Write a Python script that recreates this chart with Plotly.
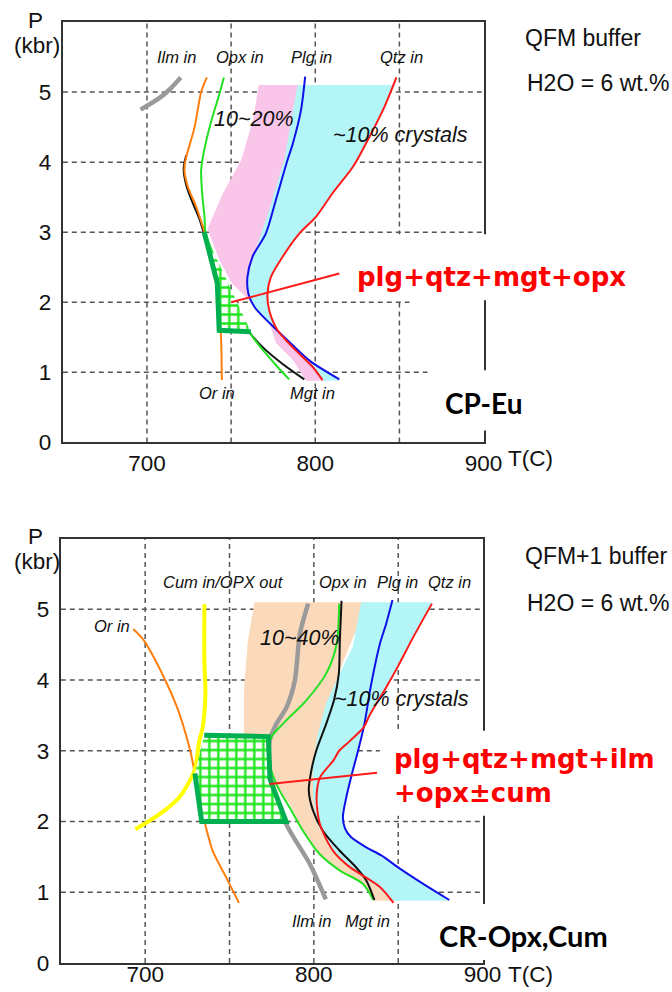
import plotly.graph_objects as go

W, H = 672, 992          # design grid, in pixels
OUT_W, OUT_H = 689, 1006  # size the figure is written at

# ---------------- upper panel (QFM buffer, CP-Eu) ----------------
ilm_T_a = [696.2, 707.1, 713.1, 720.1]
ilm_P_a = [4.75, 4.91, 5.03, 5.21]
or_T_a = [735.6, 732.2, 728.3, 722.9, 722.3, 724.3, 729.3, 733.2, 734.2, 738.0, 741.5, 742.8, 743.9, 744.5]
or_P_a = [5.21, 5.00, 4.50, 4.03, 3.88, 3.65, 3.36, 3.08, 3.00, 2.60, 2.20, 1.80, 1.55, 0.89]
mgt_T_a = [723.3, 721.8, 723.6, 727.5, 731.0, 734.5, 748.0, 760.7, 768.7, 780.6, 793.5]
mgt_P_a = [4.10, 3.90, 3.65, 3.40, 3.20, 2.95, 2.20, 1.58, 1.36, 1.12, 0.90]
opx_T_a = [745.7, 743.1, 737.2, 733.2, 732.2, 732.8, 734.2, 734.8, 746.0, 757.0, 763.0, 770.6, 777.5, 784.5]
opx_P_a = [5.21, 4.98, 4.50, 4.07, 3.88, 3.55, 3.22, 3.00, 2.30, 1.75, 1.50, 1.27, 1.08, 0.90]
plg_T_a = [794.0, 791.5, 786.6, 783.5, 776.6, 770.6, 762.7, 759.7, 760.3, 764.0, 773.0, 786.0, 797.0, 814.3]
plg_P_a = [5.22, 4.74, 4.26, 4.03, 3.46, 2.98, 2.65, 2.36, 2.12, 1.93, 1.70, 1.40, 1.16, 0.90]
qtz_T_a = [848.2, 841.1, 830.2, 822.3, 810.4, 800.4, 790.5, 780.6, 773.6, 771.6, 772.6, 777.6, 786.5, 798.4, 804.3]
qtz_P_a = [5.21, 4.79, 4.27, 3.93, 3.56, 3.22, 2.98, 2.65, 2.36, 2.12, 1.89, 1.60, 1.36, 1.08, 0.89]

pink_T_a = [766.4, 795.0, 785.0, 772.0, 766.0, 770.0, 780.0, 800.0, 808.0, 794.5, 786.6, 776.7,
            772.7, 762.0, 750.6, 743.0, 736.0, 745.0, 756.0, 763.0]
pink_P_a = [5.10, 5.10, 4.00, 3.00, 2.40, 1.90, 1.50, 1.10, 0.88, 0.88, 1.18, 1.42,
            1.70, 2.00, 2.27, 2.60, 3.05, 3.55, 4.03, 4.60]
cyan_T_a = [789.5, 846.3, 841.1, 830.2, 822.3, 810.4, 800.4, 790.5, 780.6, 773.6, 771.6, 772.6,
            777.6, 786.5, 798.4, 804.3, 814.3, 797.0, 786.0, 773.0, 764.0, 760.3, 759.7, 765.2,
            772.7, 781.6]
cyan_P_a = [5.10, 5.10, 4.79, 4.27, 3.93, 3.56, 3.22, 2.98, 2.65, 2.36, 2.12, 1.89,
            1.60, 1.36, 1.08, 0.88, 0.88, 1.16, 1.40, 1.70, 1.93, 2.12, 2.36, 2.79,
            3.32, 4.03]
field_T_a = [734.0, 741.8, 742.9, 761.7]
field_P_a = [3.00, 2.27, 1.60, 1.58]
leader_T_a = [750.0, 814.3]
leader_P_a = [2.00, 2.41]

# ---------------- lower panel (QFM+1 buffer, CR-Opx,Cum) ----------------
or_T_b = [692.9, 699.2, 711.1, 719.0, 724.0, 727.2, 730.2, 735.1, 740.1, 748.0, 755.6]
or_P_b = [4.72, 4.56, 4.04, 3.61, 3.24, 2.95, 2.58, 2.01, 1.58, 1.21, 0.85]
cum_T_b = [735.1, 735.1, 735.7, 734.1, 732.1, 729.2, 720.2, 708.3, 694.2]
cum_P_b = [5.07, 4.27, 3.80, 3.33, 3.14, 2.72, 2.34, 2.10, 1.89]
ilm_T_b = [796.6, 791.7, 788.7, 783.7, 777.8, 773.8, 774.5, 783.7, 797.6, 807.1]
ilm_P_b = [5.08, 4.65, 3.99, 3.61, 3.38, 3.14, 2.60, 1.96, 1.40, 0.90]
opx_T_b = [815.0, 813.5, 807.3, 795.4, 781.6, 774.7, 772.7, 774.7, 779.6, 785.6, 793.5, 803.4, 815.2, 829.0, 835.3]
opx_P_b = [5.08, 4.51, 4.09, 3.71, 3.38, 3.19, 3.00, 2.72, 2.44, 2.20, 1.87, 1.54, 1.31, 1.12, 0.89]
mgt_T_b = [816.4, 815.4, 814.8, 812.0, 807.3, 801.4, 798.5, 797.0, 799.4, 805.3, 815.2, 825.1, 831.0, 835.9]
mgt_P_b = [5.12, 4.56, 4.09, 3.72, 3.38, 3.00, 2.72, 2.44, 2.16, 1.87, 1.59, 1.35, 1.17, 0.89]
plg_T_b = [846.6, 842.9, 839.0, 833.5, 830.0, 826.2, 822.1, 819.2, 817.2, 818.5, 822.0, 831.4, 840.0, 851.2, 866.0, 880.3]
plg_P_b = [5.13, 4.80, 4.50, 3.88, 3.38, 3.00, 2.63, 2.34, 2.06, 1.90, 1.78, 1.63, 1.52, 1.33, 1.10, 0.89]
qtz_T_b = [870.0, 859.0, 850.0, 843.0, 833.0, 829.5, 821.4, 815.0, 811.5, 803.6, 801.6, 803.6, 811.5, 820.0, 827.4, 839.3, 847.2]
qtz_P_b = [5.08, 4.61, 4.20, 3.90, 3.50, 3.33, 3.14, 3.00, 2.86, 2.62, 2.34, 1.96, 1.58, 1.38, 1.26, 1.07, 0.85]

peach_T_b = [764.8, 832.0, 818.0, 806.0, 801.0, 800.5, 803.5, 812.0, 828.0, 840.0, 848.0, 835.3,
             829.0, 815.2, 803.4, 793.5, 785.7, 773.8, 773.0, 758.5, 758.5, 760.9]
peach_P_b = [5.10, 5.10, 4.30, 3.50, 3.00, 2.50, 2.00, 1.58, 1.26, 1.07, 0.88, 0.88,
             1.12, 1.31, 1.54, 1.87, 2.25, 2.60, 3.20, 3.20, 3.85, 4.56]
cyan_T_b = [828.0, 870.0, 859.0, 850.0, 843.0, 833.0, 830.0, 826.2, 822.1, 819.2, 817.2, 818.5,
            822.0, 831.4, 840.0, 851.2, 866.0, 880.3, 846.0, 838.0, 826.0, 810.5, 802.3, 799.5,
            799.4, 802.4, 807.3, 815.2, 823.1]
cyan_P_b = [5.10, 5.10, 4.61, 4.20, 3.90, 3.50, 3.37, 3.00, 2.63, 2.34, 2.06, 1.90,
            1.78, 1.63, 1.52, 1.33, 1.10, 0.88, 0.88, 1.07, 1.26, 1.58, 1.96, 2.34,
            2.82, 3.24, 3.67, 4.09, 4.47]
field_T_b = [735.0, 773.0, 774.0, 783.5, 733.5, 729.5]
field_P_b = [3.22, 3.20, 2.60, 2.00, 2.00, 2.68]
leader_T_b = [773.8, 837.5]
leader_P_b = [2.53, 2.69]

# tick and grid values
T_ticks = [700, 800, 900]
P_ticks = [0, 1, 2, 3, 4, 5]
T_grid = [700, 750, 800, 850]
P_grid = [1, 2, 3, 4, 5]

# ---------------- styles ----------------
C_OR, C_OPX, C_PLG, C_QTZ = "#ff7f0e", "#22e022", "#1010e8", "#ff1a1a"
C_ILM, C_MGT, C_CUM = "#9a9a9a", "#111111", "#ffff00"
C_PINK, C_CYAN, C_PEACH = "#f9c6ea", "#b4f6f8", "#fbd9bb"
SANS = "Liberation Sans, Arial, sans-serif"


def px_x(px):
    return px / W


def px_y(py):
    return 1 - py / H


fig = go.Figure()


def area(T, P, color, ax):
    fig.add_trace(go.Scatter(x=T, y=P, mode="lines", fill="toself", fillcolor=color,
                             line=dict(width=0, color=color), hoverinfo="skip",
                             xaxis=ax[0], yaxis=ax[1], showlegend=False))


def curve(T, P, color, width, ax):
    fig.add_trace(go.Scatter(x=T, y=P, mode="lines",
                             line=dict(color=color, width=width, shape="spline", smoothing=0.8),
                             hoverinfo="skip", xaxis=ax[0], yaxis=ax[1], showlegend=False))


def field(T, P, ax):
    fig.add_trace(go.Scatter(x=T, y=P, mode="lines", fill="toself",
                             fillpattern=dict(shape="+", bgcolor="white", fgcolor="#1ee61e",
                                              size=9, solidity=0.45, fillmode="replace"),
                             line=dict(color="#00b050", width=5), hoverinfo="skip",
                             xaxis=ax[0], yaxis=ax[1], showlegend=False))


def straight(T, P, color, ax):
    fig.add_trace(go.Scatter(x=T, y=P, mode="lines", line=dict(color=color, width=2),
                             hoverinfo="skip", xaxis=ax[0], yaxis=ax[1], showlegend=False))


A = ("x", "y")
B = ("x2", "y2")

# upper panel marks
area(pink_T_a, pink_P_a, C_PINK, A)
area(cyan_T_a, cyan_P_a, C_CYAN, A)
curve(ilm_T_a, ilm_P_a, C_ILM, 4.5, A)
curve(mgt_T_a, mgt_P_a, C_MGT, 2, A)
curve(or_T_a, or_P_a, C_OR, 2, A)
curve(opx_T_a, opx_P_a, C_OPX, 2, A)
curve(plg_T_a, plg_P_a, C_PLG, 2, A)
curve(qtz_T_a, qtz_P_a, C_QTZ, 2, A)
field(field_T_a, field_P_a, A)
straight(leader_T_a, leader_P_a, C_QTZ, A)

# lower panel marks
area(peach_T_b, peach_P_b, C_PEACH, B)
area(cyan_T_b, cyan_P_b, C_CYAN, B)
curve(or_T_b, or_P_b, C_OR, 2, B)
curve(cum_T_b, cum_P_b, C_CUM, 4, B)
curve(ilm_T_b, ilm_P_b, C_ILM, 4.5, B)
curve(opx_T_b, opx_P_b, C_OPX, 2, B)
curve(mgt_T_b, mgt_P_b, C_MGT, 2, B)
curve(plg_T_b, plg_P_b, C_PLG, 2, B)
curve(qtz_T_b, qtz_P_b, C_QTZ, 2, B)
field(field_T_b, field_P_b, B)
straight(leader_T_b, leader_P_b, C_QTZ, B)

# ---------------- grid (dashed) ----------------
shapes = []
GRID = dict(color="#555555", width=1.5, dash="5px,4px")
h_extent_a = {1: 866.7, 2: 856.0, 3: 900, 4: 900, 5: 900}
for ax, hext in ((A, h_extent_a), (B, {p: 900 for p in P_grid})):
    for t in T_grid:
        shapes.append(dict(type="line", xref=ax[0], yref=ax[1], x0=t, x1=t, y0=0, y1=6,
                           line=GRID, layer="below"))
    for p in P_grid:
        shapes.append(dict(type="line", xref=ax[0], yref=ax[1], x0=650, x1=hext[p], y0=p, y1=p,
                           line=GRID, layer="below"))

# white panels behind the side labels (they interrupt the frame)
for (x0, y0, x1, y1) in ((345, 234, 640, 300), (440, 370, 530, 430),
                         (381, 730, 660, 815), (432, 903, 620, 959)):
    shapes.append(dict(type="rect", xref="paper", yref="paper",
                       x0=px_x(x0), x1=px_x(x1), y0=px_y(y1), y1=px_y(y0),
                       fillcolor="white", line=dict(width=0), layer="above"))

# ---------------- text ----------------
ann = []


def label(text, T, P, ax, size=16.5, color="#111111"):
    ann.append(dict(text=f"<i>{text}</i>", x=T, y=P, xref=ax[0], yref=ax[1],
                    showarrow=False, font=dict(family=SANS, size=size, color=color),
                    xanchor="center", yanchor="middle"))


def ptext(text, px, py, size=23, family=SANS, color="#111111", xanchor="left", align="left"):
    ann.append(dict(text=text, x=px_x(px), y=px_y(py), xref="paper", yref="paper",
                    showarrow=False, font=dict(family=family, size=size, color=color),
                    xanchor=xanchor, yanchor="middle", align=align))


label("Ilm in", 717.3, 5.5, A)
label("Opx in", 755.4, 5.5, A)
label("Plg in", 797.6, 5.5, A)
label("Qtz in", 851.2, 5.5, A)
label("Or in", 741.7, 0.7, A)
label("Mgt in", 798.2, 0.7, A)
label("10~20%", 763.7, 4.61, A, size=21.5)
label("~10% crystals", 850.9, 4.39, A, size=21.5)

label("Cum in/OPX out", 746.7, 5.38, B)
label("Or in", 680.1, 4.77, B)
label("Opx in", 817.0, 5.38, B)
label("Plg in", 849.6, 5.38, B)
label("Qtz in", 880.2, 5.38, B)
label("Ilm in", 798.5, 0.59, B)
label("Mgt in", 831.8, 0.59, B)
label("10~40%", 792.0, 4.60, B, size=21.5)
label("~10% crystals", 852.0, 3.73, B, size=21.5)

for p_y, k_y, t_y in ((20, 45, 458), (536, 561, 974)):
    ptext("P", 36, p_y, size=22.5, xanchor="center")
    ptext("(kbr)", 37, k_y, size=22.5, xanchor="center")
    ptext("T(C)", 532, t_y, size=22.5, xanchor="center")

ptext("QFM buffer", 525, 38)
ptext("H2O = 6 wt.%", 527, 83)
ptext("QFM+1 buffer", 525, 555)
ptext("H2O = 6 wt.%", 527, 602)

RED_FONT = "DejaVu Sans, Verdana, sans-serif"
ptext("<b>plg+qtz+mgt+opx</b>", 356, 277, size=26, family=RED_FONT, color="#ff0000")
ptext("<b>plg+qtz+mgt+ilm</b><br><b>+opx\u00b1cum</b>", 393, 775, size=26, family=RED_FONT,
      color="#ff0000")
BOLD_FONT = "Lato, Open Sans, sans-serif"
ptext("<b>CP-Eu</b>", 485, 403, size=28, family=BOLD_FONT, color="#000000", xanchor="center")
ptext("<b>CR-Opx,Cum</b>", 525, 935, size=29, family=BOLD_FONT, color="#000000", xanchor="center")


# ---------------- axes ----------------
def xaxis(domain, anchor, standoff):
    return dict(domain=domain, anchor=anchor, range=[650, 900], tickvals=T_ticks,
                ticktext=[str(t) for t in T_ticks], showgrid=False, zeroline=False,
                showline=True, mirror=True, linecolor="#333333", linewidth=2, ticks="",
                ticklabelstandoff=standoff, tickfont=dict(family=SANS, size=22.5, color="#111111"))


def yaxis(domain, anchor):
    return dict(domain=domain, anchor=anchor, range=[0, 6], tickvals=P_ticks,
                ticktext=[str(p) for p in P_ticks], showgrid=False, zeroline=False,
                showline=True, mirror=True, linecolor="#333333", linewidth=2, ticks="",
                ticklabelstandoff=5, tickfont=dict(family=SANS, size=22.5, color="#111111"))


fig.update_layout(
    width=OUT_W, height=OUT_H, margin=dict(l=0, r=0, t=0, b=0),
    paper_bgcolor="white", plot_bgcolor="white", showlegend=False,
    xaxis=xaxis([px_x(63), px_x(485)], "y", 0),
    yaxis=yaxis([px_y(442), px_y(22)], "x"),
    xaxis2=xaxis([px_x(61), px_x(484)], "y2", -10),
    yaxis2=yaxis([px_y(962), px_y(538)], "x2"),
    shapes=shapes, annotations=ann,
)

fig.write_html("out.html")
